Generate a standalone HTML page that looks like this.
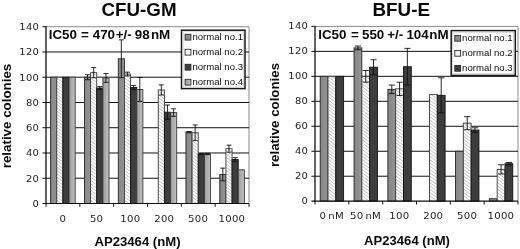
<!DOCTYPE html>
<html lang="en">
<head>
<meta charset="utf-8">
<title>CFU-GM / BFU-E</title>
<style>
html,body{margin:0;padding:0;background:#fff;}
body{width:520px;height:249px;overflow:hidden;}
svg{display:block;will-change:transform;}
text{fill:#0a0a0a;}
.tk{font-family:"DejaVu Sans","Liberation Sans",sans-serif;font-size:9.5px;letter-spacing:0.2px;word-spacing:-1.3px;fill:#1c1c1c;}
.lg{font-family:"Liberation Sans",Arial,Helvetica,sans-serif;font-size:9.5px;}
.ttl{font-family:"Liberation Sans",Arial,Helvetica,sans-serif;font-size:18px;font-weight:bold;}
.ic{font-family:"Liberation Sans",Arial,Helvetica,sans-serif;font-size:13.4px;font-weight:bold;}
.xt{font-family:"Liberation Sans",Arial,Helvetica,sans-serif;font-size:13px;font-weight:bold;}
</style>
</head>
<body>
<svg width="520" height="249" viewBox="0 0 520 249">
<defs>
<pattern id="hatch" width="2.4" height="2.4" patternUnits="userSpaceOnUse" patternTransform="rotate(-48)">
<rect width="2.4" height="2.4" fill="#fdfdfd"/>
<rect x="0" y="0" width="1" height="2.4" fill="#c2c2c2"/>
</pattern>
<linearGradient id="g1" x1="0" x2="1" y1="0" y2="0"><stop offset="0" stop-color="#868686"/><stop offset="1" stop-color="#949494"/></linearGradient>
<linearGradient id="g4" x1="0" x2="1" y1="0" y2="0"><stop offset="0" stop-color="#9c9c9c"/><stop offset="1" stop-color="#c2c2c2"/></linearGradient>
</defs>
<rect width="520" height="249" fill="#fff"/>
<g>
<path d="M46 26.7H249V203.5" fill="none" stroke="#8a8a8a" stroke-width="1"/>
<line x1="46" y1="178.24" x2="249" y2="178.24" stroke="#111" stroke-width="1"/>
<line x1="46" y1="152.99" x2="249" y2="152.99" stroke="#111" stroke-width="1"/>
<line x1="46" y1="127.73" x2="249" y2="127.73" stroke="#111" stroke-width="1"/>
<line x1="46" y1="102.47" x2="249" y2="102.47" stroke="#111" stroke-width="1"/>
<line x1="46" y1="77.21" x2="249" y2="77.21" stroke="#111" stroke-width="1"/>
<line x1="46" y1="51.96" x2="249" y2="51.96" stroke="#111" stroke-width="1"/>
<rect x="50.6" y="77.21" width="6.15" height="126.29" fill="url(#g1)" stroke="#262626" stroke-width="0.9"/>
<rect x="56.75" y="77.21" width="6.15" height="126.29" fill="#fff"/>
<path d="M60.14 77.21L62.9 79.2M56.75 78.07L62.9 82.5M56.75 81.37L62.9 85.8M56.75 84.67L62.9 89.1M56.75 87.97L62.9 92.4M56.75 91.27L62.9 95.7M56.75 94.57L62.9 99M56.75 97.87L62.9 102.3M56.75 101.17L62.9 105.6M56.75 104.47L62.9 108.9M56.75 107.77L62.9 112.2M56.75 111.07L62.9 115.5M56.75 114.37L62.9 118.8M56.75 117.67L62.9 122.1M56.75 120.97L62.9 125.4M56.75 124.27L62.9 128.7M56.75 127.57L62.9 132M56.75 130.87L62.9 135.3M56.75 134.17L62.9 138.6M56.75 137.47L62.9 141.9M56.75 140.77L62.9 145.2M56.75 144.07L62.9 148.5M56.75 147.37L62.9 151.8M56.75 150.67L62.9 155.1M56.75 153.97L62.9 158.4M56.75 157.27L62.9 161.7M56.75 160.57L62.9 165M56.75 163.87L62.9 168.3M56.75 167.17L62.9 171.6M56.75 170.47L62.9 174.9M56.75 173.77L62.9 178.2M56.75 177.07L62.9 181.5M56.75 180.37L62.9 184.8M56.75 183.67L62.9 188.1M56.75 186.97L62.9 191.4M56.75 190.27L62.9 194.7M56.75 193.57L62.9 198M56.75 196.87L62.9 201.3M56.75 200.17L61.37 203.5M56.75 203.47L56.79 203.5" fill="none" stroke="#bcbcbc" stroke-width="0.95"/>
<rect x="56.75" y="77.21" width="6.15" height="126.29" fill="none" stroke="#3a3a3a" stroke-width="0.9"/>
<rect x="62.9" y="77.21" width="6.15" height="126.29" fill="#3d3d3d" stroke="#111" stroke-width="0.9"/>
<rect x="69.05" y="77.21" width="6.15" height="126.29" fill="url(#g4)" stroke="#3a3a3a" stroke-width="0.9"/>
<rect x="84.43" y="77.21" width="6.15" height="126.29" fill="url(#g1)" stroke="#262626" stroke-width="0.9"/>
<rect x="90.58" y="72.67" width="6.15" height="130.83" fill="#fff"/>
<path d="M92.24 72.67L96.73 75.9M90.58 74.77L96.73 79.2M90.58 78.07L96.73 82.5M90.58 81.37L96.73 85.8M90.58 84.67L96.73 89.1M90.58 87.97L96.73 92.4M90.58 91.27L96.73 95.7M90.58 94.57L96.73 99M90.58 97.87L96.73 102.3M90.58 101.17L96.73 105.6M90.58 104.47L96.73 108.9M90.58 107.77L96.73 112.2M90.58 111.07L96.73 115.5M90.58 114.37L96.73 118.8M90.58 117.67L96.73 122.1M90.58 120.97L96.73 125.4M90.58 124.27L96.73 128.7M90.58 127.57L96.73 132M90.58 130.87L96.73 135.3M90.58 134.17L96.73 138.6M90.58 137.47L96.73 141.9M90.58 140.77L96.73 145.2M90.58 144.07L96.73 148.5M90.58 147.37L96.73 151.8M90.58 150.67L96.73 155.1M90.58 153.97L96.73 158.4M90.58 157.27L96.73 161.7M90.58 160.57L96.73 165M90.58 163.87L96.73 168.3M90.58 167.17L96.73 171.6M90.58 170.47L96.73 174.9M90.58 173.77L96.73 178.2M90.58 177.07L96.73 181.5M90.58 180.37L96.73 184.8M90.58 183.67L96.73 188.1M90.58 186.97L96.73 191.4M90.58 190.27L96.73 194.7M90.58 193.57L96.73 198M90.58 196.87L96.73 201.3M90.58 200.17L95.21 203.5M90.58 203.47L90.62 203.5" fill="none" stroke="#bcbcbc" stroke-width="0.95"/>
<rect x="90.58" y="72.67" width="6.15" height="130.83" fill="none" stroke="#3a3a3a" stroke-width="0.9"/>
<rect x="96.73" y="88.07" width="6.15" height="115.43" fill="#3d3d3d" stroke="#111" stroke-width="0.9"/>
<rect x="102.88" y="77.97" width="6.15" height="125.53" fill="url(#g4)" stroke="#3a3a3a" stroke-width="0.9"/>
<rect x="118.27" y="58.78" width="6.15" height="144.72" fill="url(#g1)" stroke="#262626" stroke-width="0.9"/>
<rect x="124.42" y="74.06" width="6.15" height="129.44" fill="#fff"/>
<path d="M128.01 74.06L130.57 75.9M124.42 74.77L130.57 79.2M124.42 78.07L130.57 82.5M124.42 81.37L130.57 85.8M124.42 84.67L130.57 89.1M124.42 87.97L130.57 92.4M124.42 91.27L130.57 95.7M124.42 94.57L130.57 99M124.42 97.87L130.57 102.3M124.42 101.17L130.57 105.6M124.42 104.47L130.57 108.9M124.42 107.77L130.57 112.2M124.42 111.07L130.57 115.5M124.42 114.37L130.57 118.8M124.42 117.67L130.57 122.1M124.42 120.97L130.57 125.4M124.42 124.27L130.57 128.7M124.42 127.57L130.57 132M124.42 130.87L130.57 135.3M124.42 134.17L130.57 138.6M124.42 137.47L130.57 141.9M124.42 140.77L130.57 145.2M124.42 144.07L130.57 148.5M124.42 147.37L130.57 151.8M124.42 150.67L130.57 155.1M124.42 153.97L130.57 158.4M124.42 157.27L130.57 161.7M124.42 160.57L130.57 165M124.42 163.87L130.57 168.3M124.42 167.17L130.57 171.6M124.42 170.47L130.57 174.9M124.42 173.77L130.57 178.2M124.42 177.07L130.57 181.5M124.42 180.37L130.57 184.8M124.42 183.67L130.57 188.1M124.42 186.97L130.57 191.4M124.42 190.27L130.57 194.7M124.42 193.57L130.57 198M124.42 196.87L130.57 201.3M124.42 200.17L129.04 203.5M124.42 203.47L124.46 203.5" fill="none" stroke="#bcbcbc" stroke-width="0.95"/>
<rect x="124.42" y="74.06" width="6.15" height="129.44" fill="none" stroke="#3a3a3a" stroke-width="0.9"/>
<rect x="130.57" y="87.44" width="6.15" height="116.06" fill="#3d3d3d" stroke="#111" stroke-width="0.9"/>
<rect x="136.72" y="89.46" width="6.15" height="114.04" fill="url(#g4)" stroke="#3a3a3a" stroke-width="0.9"/>
<rect x="158.25" y="89.97" width="6.15" height="113.53" fill="#fff"/>
<path d="M161.02 89.97L164.4 92.4M158.25 91.27L164.4 95.7M158.25 94.57L164.4 99M158.25 97.87L164.4 102.3M158.25 101.17L164.4 105.6M158.25 104.47L164.4 108.9M158.25 107.77L164.4 112.2M158.25 111.07L164.4 115.5M158.25 114.37L164.4 118.8M158.25 117.67L164.4 122.1M158.25 120.97L164.4 125.4M158.25 124.27L164.4 128.7M158.25 127.57L164.4 132M158.25 130.87L164.4 135.3M158.25 134.17L164.4 138.6M158.25 137.47L164.4 141.9M158.25 140.77L164.4 145.2M158.25 144.07L164.4 148.5M158.25 147.37L164.4 151.8M158.25 150.67L164.4 155.1M158.25 153.97L164.4 158.4M158.25 157.27L164.4 161.7M158.25 160.57L164.4 165M158.25 163.87L164.4 168.3M158.25 167.17L164.4 171.6M158.25 170.47L164.4 174.9M158.25 173.77L164.4 178.2M158.25 177.07L164.4 181.5M158.25 180.37L164.4 184.8M158.25 183.67L164.4 188.1M158.25 186.97L164.4 191.4M158.25 190.27L164.4 194.7M158.25 193.57L164.4 198M158.25 196.87L164.4 201.3M158.25 200.17L162.87 203.5M158.25 203.47L158.29 203.5" fill="none" stroke="#bcbcbc" stroke-width="0.95"/>
<rect x="158.25" y="89.97" width="6.15" height="113.53" fill="none" stroke="#3a3a3a" stroke-width="0.9"/>
<rect x="164.4" y="112.2" width="6.15" height="91.3" fill="#3d3d3d" stroke="#111" stroke-width="0.9"/>
<rect x="170.55" y="112.57" width="6.15" height="90.93" fill="url(#g4)" stroke="#3a3a3a" stroke-width="0.9"/>
<rect x="185.93" y="132.15" width="6.15" height="71.35" fill="url(#g1)" stroke="#262626" stroke-width="0.9"/>
<rect x="192.08" y="132.78" width="6.15" height="70.72" fill="#fff"/>
<path d="M194.73 132.78L198.23 135.3M192.08 134.17L198.23 138.6M192.08 137.47L198.23 141.9M192.08 140.77L198.23 145.2M192.08 144.07L198.23 148.5M192.08 147.37L198.23 151.8M192.08 150.67L198.23 155.1M192.08 153.97L198.23 158.4M192.08 157.27L198.23 161.7M192.08 160.57L198.23 165M192.08 163.87L198.23 168.3M192.08 167.17L198.23 171.6M192.08 170.47L198.23 174.9M192.08 173.77L198.23 178.2M192.08 177.07L198.23 181.5M192.08 180.37L198.23 184.8M192.08 183.67L198.23 188.1M192.08 186.97L198.23 191.4M192.08 190.27L198.23 194.7M192.08 193.57L198.23 198M192.08 196.87L198.23 201.3M192.08 200.17L196.71 203.5M192.08 203.47L192.12 203.5" fill="none" stroke="#bcbcbc" stroke-width="0.95"/>
<rect x="192.08" y="132.78" width="6.15" height="70.72" fill="none" stroke="#3a3a3a" stroke-width="0.9"/>
<rect x="198.23" y="154" width="6.15" height="49.5" fill="#3d3d3d" stroke="#111" stroke-width="0.9"/>
<rect x="204.38" y="154" width="6.15" height="49.5" fill="url(#g4)" stroke="#3a3a3a" stroke-width="0.9"/>
<rect x="219.77" y="174.45" width="6.15" height="29.05" fill="url(#g1)" stroke="#262626" stroke-width="0.9"/>
<rect x="225.92" y="148.69" width="6.15" height="54.81" fill="#fff"/>
<path d="M227.75 148.69L232.07 151.8M225.92 150.67L232.07 155.1M225.92 153.97L232.07 158.4M225.92 157.27L232.07 161.7M225.92 160.57L232.07 165M225.92 163.87L232.07 168.3M225.92 167.17L232.07 171.6M225.92 170.47L232.07 174.9M225.92 173.77L232.07 178.2M225.92 177.07L232.07 181.5M225.92 180.37L232.07 184.8M225.92 183.67L232.07 188.1M225.92 186.97L232.07 191.4M225.92 190.27L232.07 194.7M225.92 193.57L232.07 198M225.92 196.87L232.07 201.3M225.92 200.17L230.54 203.5M225.92 203.47L225.96 203.5" fill="none" stroke="#bcbcbc" stroke-width="0.95"/>
<rect x="225.92" y="148.69" width="6.15" height="54.81" fill="none" stroke="#3a3a3a" stroke-width="0.9"/>
<rect x="232.07" y="159.55" width="6.15" height="43.95" fill="#3d3d3d" stroke="#111" stroke-width="0.9"/>
<rect x="238.22" y="169.78" width="6.15" height="33.72" fill="url(#g4)" stroke="#3a3a3a" stroke-width="0.9"/>
<path d="M87.51 74.69V79.74M85.01 74.69H90.01M85.01 79.74H90.01" fill="none" stroke="#111" stroke-width="0.9"/>
<path d="M93.66 67.62V77.72M91.16 67.62H96.16M91.16 77.72H96.16" fill="none" stroke="#111" stroke-width="0.9"/>
<path d="M99.81 86.56V89.59M97.31 86.56H102.31M97.31 89.59H102.31" fill="none" stroke="#111" stroke-width="0.9"/>
<path d="M105.96 73.55V82.39M103.46 73.55H108.46M103.46 82.39H108.46" fill="none" stroke="#111" stroke-width="0.9"/>
<path d="M121.34 39.83V77.72M118.84 39.83H123.84M118.84 77.72H123.84" fill="none" stroke="#111" stroke-width="0.9"/>
<path d="M127.49 72.16V75.95M124.99 72.16H129.99M124.99 75.95H129.99" fill="none" stroke="#111" stroke-width="0.9"/>
<path d="M133.64 85.55V89.34M131.14 85.55H136.14M131.14 89.34H136.14" fill="none" stroke="#111" stroke-width="0.9"/>
<path d="M139.79 77.47V101.46M137.29 77.47H142.29M137.29 101.46H142.29" fill="none" stroke="#111" stroke-width="0.9"/>
<path d="M161.32 84.92V95.02M158.82 84.92H163.82M158.82 95.02H163.82" fill="none" stroke="#111" stroke-width="0.9"/>
<path d="M167.47 105V119.39M164.97 105H169.97M164.97 119.39H169.97" fill="none" stroke="#111" stroke-width="0.9"/>
<path d="M173.62 108.79V116.36M171.12 108.79H176.12M171.12 116.36H176.12" fill="none" stroke="#111" stroke-width="0.9"/>
<path d="M189.01 131.52V132.78M186.51 131.52H191.51M186.51 132.78H191.51" fill="none" stroke="#111" stroke-width="0.9"/>
<path d="M195.16 124.95V140.61M192.66 124.95H197.66M192.66 140.61H197.66" fill="none" stroke="#111" stroke-width="0.9"/>
<path d="M201.31 153.36V154.63M198.81 153.36H203.81M198.81 154.63H203.81" fill="none" stroke="#111" stroke-width="0.9"/>
<path d="M207.46 153.36V154.63M204.96 153.36H209.96M204.96 154.63H209.96" fill="none" stroke="#111" stroke-width="0.9"/>
<path d="M222.84 168.14V180.77M220.34 168.14H225.34M220.34 180.77H225.34" fill="none" stroke="#111" stroke-width="0.9"/>
<path d="M228.99 145.16V152.23M226.49 145.16H231.49M226.49 152.23H231.49" fill="none" stroke="#111" stroke-width="0.9"/>
<path d="M235.14 157.66V161.45M232.64 157.66H237.64M232.64 161.45H237.64" fill="none" stroke="#111" stroke-width="0.9"/>
<line x1="46" y1="26.2" x2="46" y2="204" stroke="#111" stroke-width="1.3"/>
<line x1="42.4" y1="203.5" x2="249" y2="203.5" stroke="#111" stroke-width="1.2"/>
<text class="tk" transform="translate(39 206.8) scale(1.05 1)" text-anchor="end">0</text>
<line x1="42.4" y1="178.24" x2="46" y2="178.24" stroke="#111" stroke-width="1"/>
<text class="tk" transform="translate(39 181.54) scale(1.05 1)" text-anchor="end">20</text>
<line x1="42.4" y1="152.99" x2="46" y2="152.99" stroke="#111" stroke-width="1"/>
<text class="tk" transform="translate(39 156.29) scale(1.05 1)" text-anchor="end">40</text>
<line x1="42.4" y1="127.73" x2="46" y2="127.73" stroke="#111" stroke-width="1"/>
<text class="tk" transform="translate(39 131.03) scale(1.05 1)" text-anchor="end">60</text>
<line x1="42.4" y1="102.47" x2="46" y2="102.47" stroke="#111" stroke-width="1"/>
<text class="tk" transform="translate(39 105.77) scale(1.05 1)" text-anchor="end">80</text>
<line x1="42.4" y1="77.21" x2="46" y2="77.21" stroke="#111" stroke-width="1"/>
<text class="tk" transform="translate(39 80.51) scale(1.05 1)" text-anchor="end">100</text>
<line x1="42.4" y1="51.96" x2="46" y2="51.96" stroke="#111" stroke-width="1"/>
<text class="tk" transform="translate(39 55.26) scale(1.05 1)" text-anchor="end">120</text>
<line x1="42.4" y1="26.7" x2="46" y2="26.7" stroke="#111" stroke-width="1"/>
<text class="tk" transform="translate(39 30) scale(1.05 1)" text-anchor="end">140</text>
<line x1="46" y1="203.5" x2="46" y2="206.8" stroke="#111" stroke-width="1"/>
<line x1="79.83" y1="203.5" x2="79.83" y2="206.8" stroke="#111" stroke-width="1"/>
<line x1="113.67" y1="203.5" x2="113.67" y2="206.8" stroke="#111" stroke-width="1"/>
<line x1="147.5" y1="203.5" x2="147.5" y2="206.8" stroke="#111" stroke-width="1"/>
<line x1="181.33" y1="203.5" x2="181.33" y2="206.8" stroke="#111" stroke-width="1"/>
<line x1="215.17" y1="203.5" x2="215.17" y2="206.8" stroke="#111" stroke-width="1"/>
<line x1="249" y1="203.5" x2="249" y2="206.8" stroke="#111" stroke-width="1"/>
<text class="tk" transform="translate(62.72 221.5) scale(1.07 1)" text-anchor="middle">0</text>
<text class="tk" transform="translate(96.55 221.5) scale(1.07 1)" text-anchor="middle">50</text>
<text class="tk" transform="translate(130.38 221.5) scale(1.07 1)" text-anchor="middle">100</text>
<text class="tk" transform="translate(164.22 221.5) scale(1.07 1)" text-anchor="middle">200</text>
<text class="tk" transform="translate(198.05 221.5) scale(1.07 1)" text-anchor="middle">500</text>
<text class="tk" transform="translate(231.88 221.5) scale(1.07 1)" text-anchor="middle">1000</text>
<text class="ttl" x="139" y="15.8" text-anchor="middle" textLength="75" lengthAdjust="spacingAndGlyphs">CFU-GM</text>
<text class="ic" transform="translate(0 38.75) scale(1 1.02)" y="0"><tspan x="48.7">IC50</tspan> <tspan x="81.1">=</tspan> <tspan x="92.7">470</tspan> <tspan x="115.7">+/-</tspan> <tspan x="134.8">98</tspan> <tspan x="150.9">nM</tspan></text>
<text class="xt" x="94.4" y="246.4" textLength="86.2" lengthAdjust="spacingAndGlyphs">AP23464 (nM)</text>
<text class="xt" transform="translate(11.3 168.3) rotate(-90)" textLength="104.6" lengthAdjust="spacingAndGlyphs">relative colonies</text>
<rect x="181.5" y="30.2" width="63.5" height="58.4" fill="#fff" stroke="#1a1a1a" stroke-width="1.5"/>
<rect x="183.1" y="31.8" width="60.3" height="55.2" fill="none" stroke="#bdbdbd" stroke-width="0.6"/>
<rect x="185.1" y="34.3" width="5.8" height="5.8" fill="url(#g1)" stroke="#2a2a2a" stroke-width="0.9"/>
<text class="lg" x="192.4" y="40.2" textLength="50.6" lengthAdjust="spacingAndGlyphs">normal no.1</text>
<rect x="185.1" y="49.3" width="5.8" height="5.8" fill="#f4f4f4" stroke="#2a2a2a" stroke-width="0.9"/>
<text class="lg" x="192.4" y="55.2" textLength="50.6" lengthAdjust="spacingAndGlyphs">normal no.2</text>
<rect x="185.1" y="64.3" width="5.8" height="5.8" fill="#3d3d3d" stroke="#2a2a2a" stroke-width="0.9"/>
<text class="lg" x="192.4" y="70.2" textLength="50.6" lengthAdjust="spacingAndGlyphs">normal no.3</text>
<rect x="185.1" y="79.3" width="5.8" height="5.8" fill="url(#g4)" stroke="#2a2a2a" stroke-width="0.9"/>
<text class="lg" x="192.4" y="85.2" textLength="50.6" lengthAdjust="spacingAndGlyphs">normal no.4</text>
</g>
<g>
<path d="M315 26.4H518V201.2" fill="none" stroke="#8a8a8a" stroke-width="1"/>
<line x1="315" y1="176.23" x2="518" y2="176.23" stroke="#111" stroke-width="1"/>
<line x1="315" y1="151.26" x2="518" y2="151.26" stroke="#111" stroke-width="1"/>
<line x1="315" y1="126.29" x2="518" y2="126.29" stroke="#111" stroke-width="1"/>
<line x1="315" y1="101.31" x2="518" y2="101.31" stroke="#111" stroke-width="1"/>
<line x1="315" y1="76.34" x2="518" y2="76.34" stroke="#111" stroke-width="1"/>
<line x1="315" y1="51.37" x2="518" y2="51.37" stroke="#111" stroke-width="1"/>
<rect x="320.2" y="76.34" width="7.8" height="124.86" fill="url(#g1)" stroke="#262626" stroke-width="0.9"/>
<rect x="328" y="76.34" width="7.8" height="124.86" fill="#fff"/>
<path d="M331.83 76.34L335.8 79.2M328 76.88L335.8 82.5M328 80.18L335.8 85.8M328 83.48L335.8 89.1M328 86.78L335.8 92.4M328 90.08L335.8 95.7M328 93.38L335.8 99M328 96.68L335.8 102.3M328 99.98L335.8 105.6M328 103.28L335.8 108.9M328 106.58L335.8 112.2M328 109.88L335.8 115.5M328 113.18L335.8 118.8M328 116.48L335.8 122.1M328 119.78L335.8 125.4M328 123.08L335.8 128.7M328 126.38L335.8 132M328 129.68L335.8 135.3M328 132.98L335.8 138.6M328 136.28L335.8 141.9M328 139.58L335.8 145.2M328 142.88L335.8 148.5M328 146.18L335.8 151.8M328 149.48L335.8 155.1M328 152.78L335.8 158.4M328 156.08L335.8 161.7M328 159.38L335.8 165M328 162.68L335.8 168.3M328 165.98L335.8 171.6M328 169.28L335.8 174.9M328 172.58L335.8 178.2M328 175.88L335.8 181.5M328 179.18L335.8 184.8M328 182.48L335.8 188.1M328 185.78L335.8 191.4M328 189.08L335.8 194.7M328 192.38L335.8 198M328 195.68L335.66 201.2M328 198.98L331.08 201.2" fill="none" stroke="#bcbcbc" stroke-width="0.95"/>
<rect x="328" y="76.34" width="7.8" height="124.86" fill="none" stroke="#3a3a3a" stroke-width="0.9"/>
<rect x="335.8" y="76.34" width="7.8" height="124.86" fill="#3d3d3d" stroke="#111" stroke-width="0.9"/>
<rect x="354.03" y="47.88" width="7.8" height="153.32" fill="url(#g1)" stroke="#262626" stroke-width="0.9"/>
<rect x="361.83" y="76.34" width="7.8" height="124.86" fill="#fff"/>
<path d="M365.67 76.34L369.63 79.2M361.83 76.88L369.63 82.5M361.83 80.18L369.63 85.8M361.83 83.48L369.63 89.1M361.83 86.78L369.63 92.4M361.83 90.08L369.63 95.7M361.83 93.38L369.63 99M361.83 96.68L369.63 102.3M361.83 99.98L369.63 105.6M361.83 103.28L369.63 108.9M361.83 106.58L369.63 112.2M361.83 109.88L369.63 115.5M361.83 113.18L369.63 118.8M361.83 116.48L369.63 122.1M361.83 119.78L369.63 125.4M361.83 123.08L369.63 128.7M361.83 126.38L369.63 132M361.83 129.68L369.63 135.3M361.83 132.98L369.63 138.6M361.83 136.28L369.63 141.9M361.83 139.58L369.63 145.2M361.83 142.88L369.63 148.5M361.83 146.18L369.63 151.8M361.83 149.48L369.63 155.1M361.83 152.78L369.63 158.4M361.83 156.08L369.63 161.7M361.83 159.38L369.63 165M361.83 162.68L369.63 168.3M361.83 165.98L369.63 171.6M361.83 169.28L369.63 174.9M361.83 172.58L369.63 178.2M361.83 175.88L369.63 181.5M361.83 179.18L369.63 184.8M361.83 182.48L369.63 188.1M361.83 185.78L369.63 191.4M361.83 189.08L369.63 194.7M361.83 192.38L369.63 198M361.83 195.68L369.49 201.2M361.83 198.98L364.91 201.2" fill="none" stroke="#bcbcbc" stroke-width="0.95"/>
<rect x="361.83" y="76.34" width="7.8" height="124.86" fill="none" stroke="#3a3a3a" stroke-width="0.9"/>
<rect x="369.63" y="67.23" width="7.8" height="133.97" fill="#3d3d3d" stroke="#111" stroke-width="0.9"/>
<rect x="387.87" y="89.33" width="7.8" height="111.87" fill="url(#g1)" stroke="#262626" stroke-width="0.9"/>
<rect x="395.67" y="88.83" width="7.8" height="112.37" fill="#fff"/>
<path d="M403.09 88.83L403.47 89.1M398.51 88.83L403.47 92.4M395.67 90.08L403.47 95.7M395.67 93.38L403.47 99M395.67 96.68L403.47 102.3M395.67 99.98L403.47 105.6M395.67 103.28L403.47 108.9M395.67 106.58L403.47 112.2M395.67 109.88L403.47 115.5M395.67 113.18L403.47 118.8M395.67 116.48L403.47 122.1M395.67 119.78L403.47 125.4M395.67 123.08L403.47 128.7M395.67 126.38L403.47 132M395.67 129.68L403.47 135.3M395.67 132.98L403.47 138.6M395.67 136.28L403.47 141.9M395.67 139.58L403.47 145.2M395.67 142.88L403.47 148.5M395.67 146.18L403.47 151.8M395.67 149.48L403.47 155.1M395.67 152.78L403.47 158.4M395.67 156.08L403.47 161.7M395.67 159.38L403.47 165M395.67 162.68L403.47 168.3M395.67 165.98L403.47 171.6M395.67 169.28L403.47 174.9M395.67 172.58L403.47 178.2M395.67 175.88L403.47 181.5M395.67 179.18L403.47 184.8M395.67 182.48L403.47 188.1M395.67 185.78L403.47 191.4M395.67 189.08L403.47 194.7M395.67 192.38L403.47 198M395.67 195.68L403.33 201.2M395.67 198.98L398.74 201.2" fill="none" stroke="#bcbcbc" stroke-width="0.95"/>
<rect x="395.67" y="88.83" width="7.8" height="112.37" fill="none" stroke="#3a3a3a" stroke-width="0.9"/>
<rect x="403.47" y="66.73" width="7.8" height="134.47" fill="#3d3d3d" stroke="#111" stroke-width="0.9"/>
<rect x="429.5" y="94.57" width="7.8" height="106.63" fill="#fff"/>
<path d="M435.73 94.57L437.3 95.7M431.15 94.57L437.3 99M429.5 96.68L437.3 102.3M429.5 99.98L437.3 105.6M429.5 103.28L437.3 108.9M429.5 106.58L437.3 112.2M429.5 109.88L437.3 115.5M429.5 113.18L437.3 118.8M429.5 116.48L437.3 122.1M429.5 119.78L437.3 125.4M429.5 123.08L437.3 128.7M429.5 126.38L437.3 132M429.5 129.68L437.3 135.3M429.5 132.98L437.3 138.6M429.5 136.28L437.3 141.9M429.5 139.58L437.3 145.2M429.5 142.88L437.3 148.5M429.5 146.18L437.3 151.8M429.5 149.48L437.3 155.1M429.5 152.78L437.3 158.4M429.5 156.08L437.3 161.7M429.5 159.38L437.3 165M429.5 162.68L437.3 168.3M429.5 165.98L437.3 171.6M429.5 169.28L437.3 174.9M429.5 172.58L437.3 178.2M429.5 175.88L437.3 181.5M429.5 179.18L437.3 184.8M429.5 182.48L437.3 188.1M429.5 185.78L437.3 191.4M429.5 189.08L437.3 194.7M429.5 192.38L437.3 198M429.5 195.68L437.16 201.2M429.5 198.98L432.58 201.2" fill="none" stroke="#bcbcbc" stroke-width="0.95"/>
<rect x="429.5" y="94.57" width="7.8" height="106.63" fill="none" stroke="#3a3a3a" stroke-width="0.9"/>
<rect x="437.3" y="95.32" width="7.8" height="105.88" fill="#3d3d3d" stroke="#111" stroke-width="0.9"/>
<rect x="455.53" y="151.26" width="7.8" height="49.94" fill="url(#g1)" stroke="#262626" stroke-width="0.9"/>
<rect x="463.33" y="123.16" width="7.8" height="78.04" fill="#fff"/>
<path d="M468.03 123.16L471.13 125.4M463.44 123.16L471.13 128.7M463.33 126.38L471.13 132M463.33 129.68L471.13 135.3M463.33 132.98L471.13 138.6M463.33 136.28L471.13 141.9M463.33 139.58L471.13 145.2M463.33 142.88L471.13 148.5M463.33 146.18L471.13 151.8M463.33 149.48L471.13 155.1M463.33 152.78L471.13 158.4M463.33 156.08L471.13 161.7M463.33 159.38L471.13 165M463.33 162.68L471.13 168.3M463.33 165.98L471.13 171.6M463.33 169.28L471.13 174.9M463.33 172.58L471.13 178.2M463.33 175.88L471.13 181.5M463.33 179.18L471.13 184.8M463.33 182.48L471.13 188.1M463.33 185.78L471.13 191.4M463.33 189.08L471.13 194.7M463.33 192.38L471.13 198M463.33 195.68L470.99 201.2M463.33 198.98L466.41 201.2" fill="none" stroke="#bcbcbc" stroke-width="0.95"/>
<rect x="463.33" y="123.16" width="7.8" height="78.04" fill="none" stroke="#3a3a3a" stroke-width="0.9"/>
<rect x="471.13" y="130.03" width="7.8" height="71.17" fill="#3d3d3d" stroke="#111" stroke-width="0.9"/>
<rect x="489.37" y="198.7" width="7.8" height="2.5" fill="url(#g1)" stroke="#262626" stroke-width="0.9"/>
<rect x="497.17" y="169.36" width="7.8" height="31.84" fill="#fff"/>
<path d="M501.86 169.36L504.97 171.6M497.27 169.36L504.97 174.9M497.17 172.58L504.97 178.2M497.17 175.88L504.97 181.5M497.17 179.18L504.97 184.8M497.17 182.48L504.97 188.1M497.17 185.78L504.97 191.4M497.17 189.08L504.97 194.7M497.17 192.38L504.97 198M497.17 195.68L504.83 201.2M497.17 198.98L500.24 201.2" fill="none" stroke="#bcbcbc" stroke-width="0.95"/>
<rect x="497.17" y="169.36" width="7.8" height="31.84" fill="none" stroke="#3a3a3a" stroke-width="0.9"/>
<rect x="504.97" y="163.74" width="7.8" height="37.46" fill="#3d3d3d" stroke="#111" stroke-width="0.9"/>
<path d="M357.93 46V49.75M354.83 46H361.03M354.83 49.75H361.03" fill="none" stroke="#111" stroke-width="0.9"/>
<path d="M365.73 70.47V82.21M362.63 70.47H368.83M362.63 82.21H368.83" fill="none" stroke="#111" stroke-width="0.9"/>
<path d="M373.53 59.74V74.72M370.43 59.74H376.63M370.43 74.72H376.63" fill="none" stroke="#111" stroke-width="0.9"/>
<path d="M391.77 85.08V93.57M388.67 85.08H394.87M388.67 93.57H394.87" fill="none" stroke="#111" stroke-width="0.9"/>
<path d="M399.57 82.21V95.45M396.47 82.21H402.67M396.47 95.45H402.67" fill="none" stroke="#111" stroke-width="0.9"/>
<path d="M407.37 48.37V85.08M404.27 48.37H410.47M404.27 85.08H410.47" fill="none" stroke="#111" stroke-width="0.9"/>
<path d="M441.2 77.84V112.8M438.1 77.84H444.3M438.1 112.8H444.3" fill="none" stroke="#111" stroke-width="0.9"/>
<path d="M467.23 116.67V129.66M464.13 116.67H470.33M464.13 129.66H470.33" fill="none" stroke="#111" stroke-width="0.9"/>
<path d="M475.03 127.78V132.28M471.93 127.78H478.13M471.93 132.28H478.13" fill="none" stroke="#111" stroke-width="0.9"/>
<path d="M501.07 164.74V173.98M497.97 164.74H504.17M497.97 173.98H504.17" fill="none" stroke="#111" stroke-width="0.9"/>
<path d="M508.87 162.49V164.99M505.77 162.49H511.97M505.77 164.99H511.97" fill="none" stroke="#111" stroke-width="0.9"/>
<line x1="315" y1="25.9" x2="315" y2="201.7" stroke="#111" stroke-width="1.3"/>
<line x1="311.4" y1="201.2" x2="518" y2="201.2" stroke="#111" stroke-width="1.2"/>
<text class="tk" transform="translate(308 204) scale(1.05 1)" text-anchor="end">0</text>
<line x1="311.4" y1="176.23" x2="315" y2="176.23" stroke="#111" stroke-width="1"/>
<text class="tk" transform="translate(308 179.03) scale(1.05 1)" text-anchor="end">20</text>
<line x1="311.4" y1="151.26" x2="315" y2="151.26" stroke="#111" stroke-width="1"/>
<text class="tk" transform="translate(308 154.06) scale(1.05 1)" text-anchor="end">40</text>
<line x1="311.4" y1="126.29" x2="315" y2="126.29" stroke="#111" stroke-width="1"/>
<text class="tk" transform="translate(308 129.09) scale(1.05 1)" text-anchor="end">60</text>
<line x1="311.4" y1="101.31" x2="315" y2="101.31" stroke="#111" stroke-width="1"/>
<text class="tk" transform="translate(308 104.11) scale(1.05 1)" text-anchor="end">80</text>
<line x1="311.4" y1="76.34" x2="315" y2="76.34" stroke="#111" stroke-width="1"/>
<text class="tk" transform="translate(308 79.14) scale(1.05 1)" text-anchor="end">100</text>
<line x1="311.4" y1="51.37" x2="315" y2="51.37" stroke="#111" stroke-width="1"/>
<text class="tk" transform="translate(308 54.17) scale(1.05 1)" text-anchor="end">120</text>
<line x1="311.4" y1="26.4" x2="315" y2="26.4" stroke="#111" stroke-width="1"/>
<text class="tk" transform="translate(308 29.2) scale(1.05 1)" text-anchor="end">140</text>
<line x1="315" y1="201.2" x2="315" y2="204.5" stroke="#111" stroke-width="1"/>
<line x1="348.83" y1="201.2" x2="348.83" y2="204.5" stroke="#111" stroke-width="1"/>
<line x1="382.67" y1="201.2" x2="382.67" y2="204.5" stroke="#111" stroke-width="1"/>
<line x1="416.5" y1="201.2" x2="416.5" y2="204.5" stroke="#111" stroke-width="1"/>
<line x1="450.33" y1="201.2" x2="450.33" y2="204.5" stroke="#111" stroke-width="1"/>
<line x1="484.17" y1="201.2" x2="484.17" y2="204.5" stroke="#111" stroke-width="1"/>
<line x1="518" y1="201.2" x2="518" y2="204.5" stroke="#111" stroke-width="1"/>
<text class="tk" transform="translate(331.72 219.1) scale(1.07 1)" text-anchor="middle">0 nM</text>
<text class="tk" transform="translate(365.55 219.1) scale(1.07 1)" text-anchor="middle">50 nM</text>
<text class="tk" transform="translate(399.38 219.1) scale(1.07 1)" text-anchor="middle">100</text>
<text class="tk" transform="translate(433.22 219.1) scale(1.07 1)" text-anchor="middle">200</text>
<text class="tk" transform="translate(467.05 219.1) scale(1.07 1)" text-anchor="middle">500</text>
<text class="tk" transform="translate(500.88 219.1) scale(1.07 1)" text-anchor="middle">1000</text>
<text class="ttl" x="401.25" y="15.6" text-anchor="middle" textLength="57.4" lengthAdjust="spacingAndGlyphs">BFU-E</text>
<text class="ic" transform="translate(0 38.5) scale(1 1.02)" y="0"><tspan x="318.2">IC50</tspan> <tspan x="351.1">=</tspan> <tspan x="362">550</tspan> <tspan x="387.3">+/-</tspan> <tspan x="406.4">104</tspan> <tspan x="429.3">nM</tspan></text>
<text class="xt" x="364.1" y="245.3" textLength="85.8" lengthAdjust="spacingAndGlyphs">AP23464 (nM)</text>
<text class="xt" transform="translate(278.7 167.1) rotate(-90)" textLength="104.2" lengthAdjust="spacingAndGlyphs">relative colonies</text>
<rect x="451.2" y="30.6" width="64.1" height="44.8" fill="#fff" stroke="#1a1a1a" stroke-width="1.5"/>
<rect x="452.8" y="32.2" width="60.9" height="41.6" fill="none" stroke="#bdbdbd" stroke-width="0.6"/>
<rect x="454.8" y="35.4" width="5.8" height="5.8" fill="url(#g1)" stroke="#2a2a2a" stroke-width="0.9"/>
<text class="lg" x="462.1" y="41.3" textLength="50.6" lengthAdjust="spacingAndGlyphs">normal no.1</text>
<rect x="454.8" y="50.4" width="5.8" height="5.8" fill="#f4f4f4" stroke="#2a2a2a" stroke-width="0.9"/>
<text class="lg" x="462.1" y="56.3" textLength="50.6" lengthAdjust="spacingAndGlyphs">normal no.2</text>
<rect x="454.8" y="65.4" width="5.8" height="5.8" fill="#3d3d3d" stroke="#2a2a2a" stroke-width="0.9"/>
<text class="lg" x="462.1" y="71.3" textLength="50.6" lengthAdjust="spacingAndGlyphs">normal no.3</text>
</g>
</svg>
</body>
</html>
